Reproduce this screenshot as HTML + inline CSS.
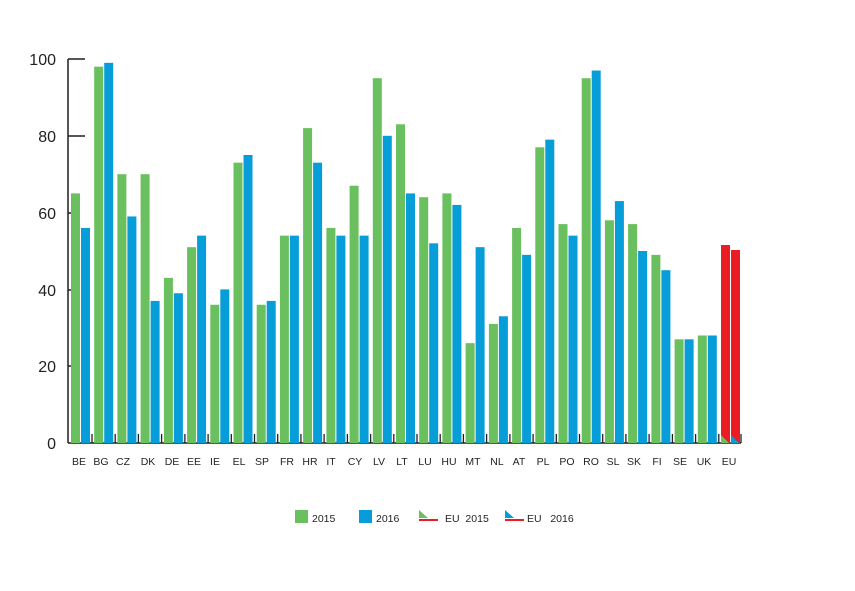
<!DOCTYPE html>
<html><head><meta charset="utf-8"><style>
html,body{margin:0;padding:0;background:#fff;}
svg{display:block;font-family:"Liberation Sans",sans-serif;}
</style></head><body>
<svg width="855" height="591" viewBox="0 0 855 591" xmlns="http://www.w3.org/2000/svg">
<rect width="855" height="591" fill="#fff"/>
<g font-size="16" fill="#231f20" text-anchor="end">
<text x="56" y="65">100</text><text x="56" y="142">80</text><text x="56" y="219">60</text>
<text x="56" y="296">40</text><text x="56" y="372">20</text><text x="56" y="449">0</text>
</g>
<g stroke="#231f20" stroke-width="1.5">
<line x1="68" y1="59" x2="68" y2="443"/><line x1="68" y1="443" x2="741" y2="443"/>
<line x1="68" y1="59" x2="85" y2="59"/><line x1="68" y1="136" x2="85" y2="136"/>
<line x1="68" y1="213" x2="73" y2="213"/><line x1="68" y1="290" x2="73" y2="290"/><line x1="68" y1="366" x2="73" y2="366"/>
</g>
<g>
<g transform="translate(71,443) scale(1,-3.84)"><rect width="9" height="65" fill="#6abf5e"/><rect x="10" width="9" height="56" fill="#079dd9"/></g>
<g transform="translate(94.2,443) scale(1,-3.84)"><rect width="9" height="98" fill="#6abf5e"/><rect x="10" width="9" height="99" fill="#079dd9"/></g>
<g transform="translate(117.4,443) scale(1,-3.84)"><rect width="9" height="70" fill="#6abf5e"/><rect x="10" width="9" height="59" fill="#079dd9"/></g>
<g transform="translate(140.6,443) scale(1,-3.84)"><rect width="9" height="70" fill="#6abf5e"/><rect x="10" width="9" height="37" fill="#079dd9"/></g>
<g transform="translate(163.9,443) scale(1,-3.84)"><rect width="9" height="43" fill="#6abf5e"/><rect x="10" width="9" height="39" fill="#079dd9"/></g>
<g transform="translate(187.1,443) scale(1,-3.84)"><rect width="9" height="51" fill="#6abf5e"/><rect x="10" width="9" height="54" fill="#079dd9"/></g>
<g transform="translate(210.3,443) scale(1,-3.84)"><rect width="9" height="36" fill="#6abf5e"/><rect x="10" width="9" height="40" fill="#079dd9"/></g>
<g transform="translate(233.5,443) scale(1,-3.84)"><rect width="9" height="73" fill="#6abf5e"/><rect x="10" width="9" height="75" fill="#079dd9"/></g>
<g transform="translate(256.7,443) scale(1,-3.84)"><rect width="9" height="36" fill="#6abf5e"/><rect x="10" width="9" height="37" fill="#079dd9"/></g>
<g transform="translate(279.9,443) scale(1,-3.84)"><rect width="9" height="54" fill="#6abf5e"/><rect x="10" width="9" height="54" fill="#079dd9"/></g>
<g transform="translate(303.1,443) scale(1,-3.84)"><rect width="9" height="82" fill="#6abf5e"/><rect x="10" width="9" height="73" fill="#079dd9"/></g>
<g transform="translate(326.4,443) scale(1,-3.84)"><rect width="9" height="56" fill="#6abf5e"/><rect x="10" width="9" height="54" fill="#079dd9"/></g>
<g transform="translate(349.6,443) scale(1,-3.84)"><rect width="9" height="67" fill="#6abf5e"/><rect x="10" width="9" height="54" fill="#079dd9"/></g>
<g transform="translate(372.8,443) scale(1,-3.84)"><rect width="9" height="95" fill="#6abf5e"/><rect x="10" width="9" height="80" fill="#079dd9"/></g>
<g transform="translate(396,443) scale(1,-3.84)"><rect width="9" height="83" fill="#6abf5e"/><rect x="10" width="9" height="65" fill="#079dd9"/></g>
<g transform="translate(419.2,443) scale(1,-3.84)"><rect width="9" height="64" fill="#6abf5e"/><rect x="10" width="9" height="52" fill="#079dd9"/></g>
<g transform="translate(442.4,443) scale(1,-3.84)"><rect width="9" height="65" fill="#6abf5e"/><rect x="10" width="9" height="62" fill="#079dd9"/></g>
<g transform="translate(465.6,443) scale(1,-3.84)"><rect width="9" height="26" fill="#6abf5e"/><rect x="10" width="9" height="51" fill="#079dd9"/></g>
<g transform="translate(488.9,443) scale(1,-3.84)"><rect width="9" height="31" fill="#6abf5e"/><rect x="10" width="9" height="33" fill="#079dd9"/></g>
<g transform="translate(512.1,443) scale(1,-3.84)"><rect width="9" height="56" fill="#6abf5e"/><rect x="10" width="9" height="49" fill="#079dd9"/></g>
<g transform="translate(535.3,443) scale(1,-3.84)"><rect width="9" height="77" fill="#6abf5e"/><rect x="10" width="9" height="79" fill="#079dd9"/></g>
<g transform="translate(558.5,443) scale(1,-3.84)"><rect width="9" height="57" fill="#6abf5e"/><rect x="10" width="9" height="54" fill="#079dd9"/></g>
<g transform="translate(581.7,443) scale(1,-3.84)"><rect width="9" height="95" fill="#6abf5e"/><rect x="10" width="9" height="97" fill="#079dd9"/></g>
<g transform="translate(604.9,443) scale(1,-3.84)"><rect width="9" height="58" fill="#6abf5e"/><rect x="10" width="9" height="63" fill="#079dd9"/></g>
<g transform="translate(628.1,443) scale(1,-3.84)"><rect width="9" height="57" fill="#6abf5e"/><rect x="10" width="9" height="50" fill="#079dd9"/></g>
<g transform="translate(651.4,443) scale(1,-3.84)"><rect width="9" height="49" fill="#6abf5e"/><rect x="10" width="9" height="45" fill="#079dd9"/></g>
<g transform="translate(674.6,443) scale(1,-3.84)"><rect width="9" height="27" fill="#6abf5e"/><rect x="10" width="9" height="27" fill="#079dd9"/></g>
<g transform="translate(697.8,443) scale(1,-3.84)"><rect width="9" height="28" fill="#6abf5e"/><rect x="10" width="9" height="28" fill="#079dd9"/></g>
<rect x="721" y="245" width="9" height="198" fill="#ec1c24"/>
<rect x="731" y="250" width="9" height="193" fill="#ec1c24"/>
<polygon points="721,435 729,443 721,443" fill="#6abf5e"/>
<polygon points="731,435 739,443 731,443" fill="#079dd9"/>
</g>
<g stroke="#231f20" stroke-width="1.3">
<line x1="92" y1="434" x2="92" y2="443"/><line x1="115.2" y1="434" x2="115.2" y2="443"/><line x1="138.4" y1="434" x2="138.4" y2="443"/>
<line x1="161.6" y1="434" x2="161.6" y2="443"/><line x1="184.9" y1="434" x2="184.9" y2="443"/><line x1="208.1" y1="434" x2="208.1" y2="443"/>
<line x1="231.3" y1="434" x2="231.3" y2="443"/><line x1="254.5" y1="434" x2="254.5" y2="443"/><line x1="277.7" y1="434" x2="277.7" y2="443"/>
<line x1="300.9" y1="434" x2="300.9" y2="443"/><line x1="324.1" y1="434" x2="324.1" y2="443"/><line x1="347.4" y1="434" x2="347.4" y2="443"/>
<line x1="370.6" y1="434" x2="370.6" y2="443"/><line x1="393.8" y1="434" x2="393.8" y2="443"/><line x1="417" y1="434" x2="417" y2="443"/>
<line x1="440.2" y1="434" x2="440.2" y2="443"/><line x1="463.4" y1="434" x2="463.4" y2="443"/><line x1="486.6" y1="434" x2="486.6" y2="443"/>
<line x1="509.9" y1="434" x2="509.9" y2="443"/><line x1="533.1" y1="434" x2="533.1" y2="443"/><line x1="556.3" y1="434" x2="556.3" y2="443"/>
<line x1="579.5" y1="434" x2="579.5" y2="443"/><line x1="602.7" y1="434" x2="602.7" y2="443"/><line x1="625.9" y1="434" x2="625.9" y2="443"/>
<line x1="649.1" y1="434" x2="649.1" y2="443"/><line x1="672.4" y1="434" x2="672.4" y2="443"/><line x1="695.6" y1="434" x2="695.6" y2="443"/>
<line x1="718.8" y1="434" x2="718.8" y2="443"/><line x1="741" y1="434" x2="741" y2="443"/>
</g>
<g font-size="10.5" fill="#231f20" text-anchor="middle">
<text x="79" y="465">BE</text><text x="101" y="465">BG</text><text x="123" y="465">CZ</text><text x="148" y="465">DK</text>
<text x="172" y="465">DE</text><text x="194" y="465">EE</text><text x="215" y="465">IE</text><text x="239" y="465">EL</text>
<text x="262" y="465">SP</text><text x="287" y="465">FR</text><text x="310" y="465">HR</text><text x="331" y="465">IT</text>
<text x="355" y="465">CY</text><text x="379" y="465">LV</text><text x="402" y="465">LT</text><text x="425" y="465">LU</text>
<text x="449" y="465">HU</text><text x="473" y="465">MT</text><text x="497" y="465">NL</text><text x="519" y="465">AT</text>
<text x="543" y="465">PL</text><text x="567" y="465">PO</text><text x="591" y="465">RO</text><text x="613" y="465">SL</text>
<text x="634" y="465">SK</text><text x="657" y="465">FI</text><text x="680" y="465">SE</text><text x="704" y="465">UK</text>
<text x="729" y="465">EU</text>
</g>
<g font-size="10.5" fill="#231f20">
<rect x="295" y="510" width="13" height="13" fill="#6abf5e"/><text x="312" y="522">2015</text>
<rect x="359" y="510" width="13" height="13" fill="#079dd9"/><text x="376" y="522">2016</text>
<polygon points="419,510 428,518 419,518" fill="#6abf5e"/><rect x="419" y="519" width="19" height="2" fill="#ec1c24"/>
<text x="445" y="522" xml:space="preserve">EU  2015</text>
<polygon points="505,510 514,518 505,518" fill="#079dd9"/><rect x="505" y="519" width="19" height="2" fill="#ec1c24"/>
<text x="527" y="522" xml:space="preserve">EU   2016</text>
</g>
</svg>
</body></html>
